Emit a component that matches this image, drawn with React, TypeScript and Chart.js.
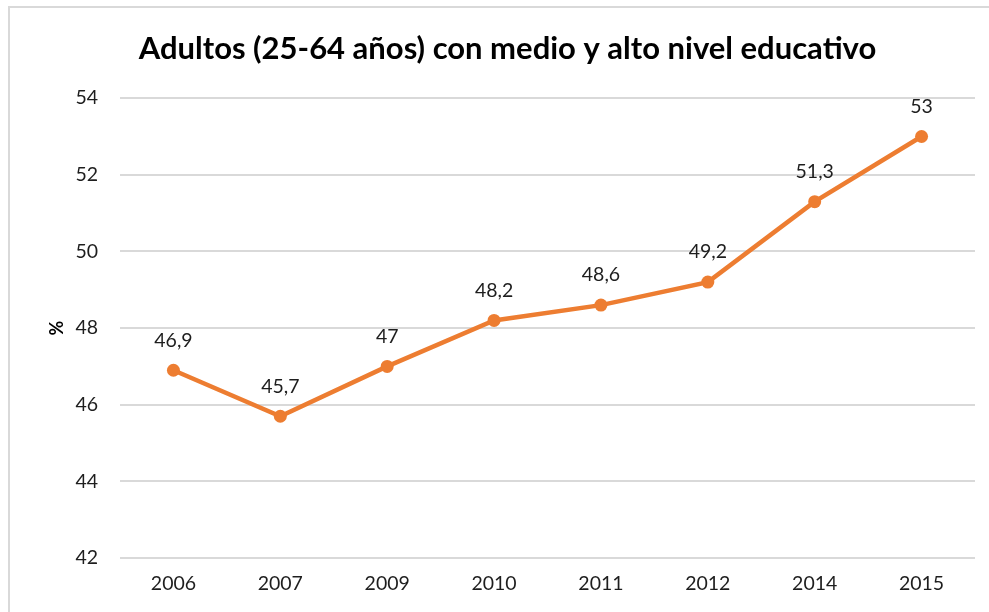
import React, { useEffect, useRef } from "react";
import { Chart, registerables } from "chart.js";
Chart.register(...registerables);

const years = ["2006", "2007", "2009", "2010", "2011", "2012", "2014", "2015"];
const values = [46.9, 45.7, 47, 48.2, 48.6, 49.2, 51.3, 53];
const valueLabels = ["46,9", "45,7", "47", "48,2", "48,6", "49,2", "51,3", "53"];
const titleText = "Adultos (25-64 años) con medio y alto nivel educativo";
const yMin = 42;
const yMax = 54;
const yStep = 2;

const FONT = "Lato, 'Open Sans', sans-serif";
const TEXT = "#1e1e1e";

const labelPlugin = {
  id: "valueLabels",
  afterDatasetsDraw(chart: any) {
    const ctx = chart.ctx;
    const meta = chart.getDatasetMeta(0);
    ctx.save();
    ctx.font = `19.5px ${FONT}`;
    ctx.fillStyle = TEXT;
    ctx.textAlign = "center";
    ctx.textBaseline = "middle";
    meta.data.forEach((pt: any, i: number) => {
      ctx.fillText(valueLabels[i], pt.x, pt.y - 30);
    });
    ctx.restore();
  },
};

export default function App() {
  const ref = useRef<HTMLCanvasElement>(null);
  useEffect(() => {
    if (!ref.current) return;
    const chart = new Chart(ref.current, {
      type: "line",
      data: {
        labels: years,
        datasets: [
          {
            data: values,
            borderColor: "#ED7D31",
            backgroundColor: "#ED7D31",
            borderWidth: 4.5,
            pointRadius: 6.5,
            pointBackgroundColor: "#ED7D31",
            pointBorderWidth: 0,
            tension: 0,
          },
        ],
      },
      options: {
        animation: false,
        responsive: false,
        layout: { padding: { left: 30, right: 31, top: 0, bottom: 26 } },
        plugins: {
          legend: { display: false },
          tooltip: { enabled: false },
          title: {
            display: true,
            text: titleText,
            color: "#000",
            font: { family: FONT, size: 31, weight: "bold" },
            padding: { top: 22, bottom: 31 },
          },
        },
        scales: {
          x: {
            offset: true,
            grid: { display: false, drawTicks: false },
            border: { display: false },
            ticks: { color: TEXT, font: { family: FONT, size: 19.5 }, padding: 14 },
            afterFit(s: any) { s.height = 60; },
          },
          y: {
            min: yMin,
            max: yMax,
            ticks: { stepSize: yStep, color: TEXT, font: { family: FONT, size: 19.5 }, padding: 22 },
            grid: { color: "#d9d9d9", lineWidth: 2, drawTicks: false },
            border: { display: false },
            title: {
              display: true,
              text: "%",
              color: "#000",
              font: { family: FONT, size: 18, weight: "bold" },
              padding: { top: 6, bottom: 0 },
            },
            afterFit(s: any) { s.width = 80; },
          },
        },
      },
      plugins: [labelPlugin],
    });
    return () => chart.destroy();
  }, []);
  return (
    <div style={{ position: "fixed", left: 0, top: 0, width: 989, height: 612, overflow: "hidden", background: "#fff" }}>
      <div
        style={{
          position: "absolute",
          left: 8,
          top: 6,
          width: 2000,
          height: 2000,
          borderTop: "2px solid #d9d9d9",
          borderLeft: "2px solid #d9d9d9",
          boxSizing: "border-box",
        }}
      >
        <canvas ref={ref} width={996} height={636} style={{ display: "block" }} />
      </div>
    </div>
  );
}
